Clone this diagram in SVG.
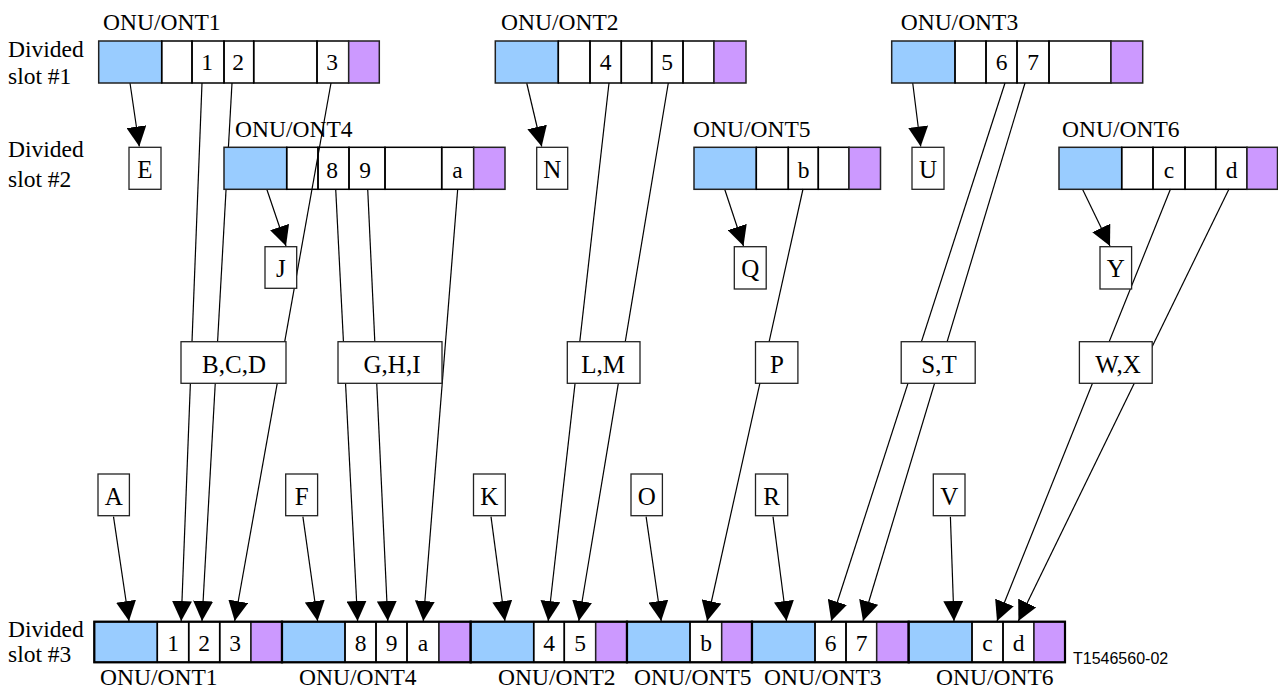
<svg xmlns="http://www.w3.org/2000/svg" width="1278" height="692" viewBox="0 0 1278 692">
<style>
text{font-family:"Liberation Serif","Times New Roman",serif;fill:#000}
.t{font-size:23.5px}
.d{font-size:23.5px;text-anchor:middle}
.l{font-size:25px;text-anchor:middle}
.s{font-family:"Liberation Sans",Arial,sans-serif;font-size:16px}
.b{fill:#99CCFF;stroke:#222;stroke-width:1.5}
.p{fill:#CC99FF;stroke:#222;stroke-width:1.5}
.w{fill:none;stroke:#000;stroke-width:1.5}
.o{fill:none;stroke:#000;stroke-width:2.2}
.bx{fill:#fff;stroke:#222;stroke-width:1.3}
.c line{stroke:#000;stroke-width:1.2;marker-end:url(#ah)}
</style>
<defs>
<marker id="ah" markerUnits="userSpaceOnUse" viewBox="0 0 20 20" markerWidth="20" markerHeight="20" refX="20" refY="10" orient="auto"><path d="M0,0 L20,10 L0,20 z" fill="#000"/></marker>
</defs>
<rect width="1278" height="692" fill="#fff"/>
<g id="row-labels">
<text class="t" x="8" y="57">Divided</text><text class="t" x="8" y="84">slot #1</text>
<text class="t" x="8" y="157">Divided</text><text class="t" x="8" y="187">slot #2</text>
<text class="t" x="8" y="637">Divided</text><text class="t" x="8" y="662">slot #3</text>
</g>
<g id="connectors" class="c">
<line x1="130" y1="83" x2="139.3" y2="146.5"/>
<line x1="526.7" y1="83" x2="541.7" y2="146.5"/>
<line x1="912.7" y1="83" x2="920.7" y2="146.5"/>
<line x1="266.7" y1="189" x2="286" y2="246"/>
<line x1="724.6" y1="189" x2="743.5" y2="246"/>
<line x1="1082.4" y1="189" x2="1110" y2="246"/>
<line x1="202" y1="83" x2="181.2" y2="621"/>
<line x1="232" y1="83" x2="202" y2="621"/>
<line x1="331" y1="83" x2="234.7" y2="621"/>
<line x1="335.7" y1="189" x2="357.6" y2="621"/>
<line x1="367.7" y1="189" x2="387.8" y2="621"/>
<line x1="457.7" y1="189" x2="423.3" y2="621"/>
<line x1="609" y1="83" x2="548.2" y2="621"/>
<line x1="668.3" y1="83" x2="578.8" y2="621"/>
<line x1="803" y1="189" x2="707.1" y2="621"/>
<line x1="1005" y1="83" x2="831.2" y2="621"/>
<line x1="1025" y1="83" x2="863" y2="621"/>
<line x1="1170.5" y1="189" x2="997" y2="621"/>
<line x1="1229" y1="189" x2="1018.4" y2="621"/>
<line x1="113.5" y1="516.7" x2="129" y2="621"/>
<line x1="302.9" y1="516.7" x2="317.6" y2="621"/>
<line x1="491" y1="516.7" x2="504.9" y2="621"/>
<line x1="646.1" y1="516.7" x2="661.2" y2="621"/>
<line x1="773" y1="516.7" x2="786.5" y2="621"/>
<line x1="950.4" y1="516.7" x2="954" y2="621"/>
</g>
<g id="s1-ont1">
<text class="t" x="103" y="30">ONU/ONT1</text>
<rect class="b" x="98.7" y="41" width="63" height="42"/>
<rect class="w" x="161.7" y="41" width="30.3" height="42"/>
<rect class="w" x="192" y="41" width="32" height="42"/>
<rect class="w" x="224" y="41" width="29.7" height="42"/>
<rect class="w" x="253.7" y="41" width="63.3" height="42"/>
<rect class="w" x="317" y="41" width="31.7" height="42"/>
<rect class="p" x="348.7" y="41" width="30.6" height="42"/>
<text class="d" x="207" y="70">1</text><text class="d" x="238" y="70">2</text><text class="d" x="332" y="70">3</text>
</g>
<g id="s1-ont2">
<text class="t" x="501" y="30">ONU/ONT2</text>
<rect class="b" x="495.3" y="41" width="63" height="42"/>
<rect class="w" x="558.3" y="41" width="31.7" height="42"/>
<rect class="w" x="590" y="41" width="31.3" height="42"/>
<rect class="w" x="621.3" y="41" width="30.4" height="42"/>
<rect class="w" x="651.7" y="41" width="31.3" height="42"/>
<rect class="w" x="683" y="41" width="31" height="42"/>
<rect class="p" x="714" y="41" width="32" height="42"/>
<text class="d" x="605.5" y="70">4</text><text class="d" x="667" y="70">5</text>
</g>
<g id="s1-ont3">
<text class="t" x="900.7" y="30">ONU/ONT3</text>
<rect class="b" x="891.7" y="41" width="63.3" height="42"/>
<rect class="w" x="955" y="41" width="31" height="42"/>
<rect class="w" x="986" y="41" width="31" height="42"/>
<rect class="w" x="1017" y="41" width="32" height="42"/>
<rect class="w" x="1049" y="41" width="62" height="42"/>
<rect class="p" x="1111" y="41" width="31.7" height="42"/>
<text class="d" x="1001.5" y="70">6</text><text class="d" x="1033" y="70">7</text>
</g>
<g id="s2-ont4">
<text class="t" x="235" y="137">ONU/ONT4</text>
<rect class="b" x="224" y="147.3" width="62.7" height="42"/>
<rect class="w" x="286.7" y="147.3" width="31.3" height="42"/>
<rect class="w" x="318" y="147.3" width="31" height="42"/>
<rect class="w" x="349" y="147.3" width="36" height="42"/>
<rect class="w" x="385" y="147.3" width="56.7" height="42"/>
<rect class="w" x="441.7" y="147.3" width="32" height="42"/>
<rect class="p" x="473.7" y="147.3" width="31.3" height="42"/>
<text class="d" x="332" y="178">8</text><text class="d" x="365" y="178">9</text><text class="d" x="457.5" y="178">a</text>
</g>
<g id="s2-ont5">
<text class="t" x="693" y="137">ONU/ONT5</text>
<rect class="b" x="694" y="147.3" width="62.3" height="42"/>
<rect class="w" x="756.3" y="147.3" width="32" height="42"/>
<rect class="w" x="788.3" y="147.3" width="30" height="42"/>
<rect class="w" x="818.3" y="147.3" width="30.7" height="42"/>
<rect class="p" x="849" y="147.3" width="31.5" height="42"/>
<text class="d" x="803.5" y="178">b</text>
</g>
<g id="s2-ont6">
<text class="t" x="1062" y="137">ONU/ONT6</text>
<rect class="b" x="1059" y="147.3" width="62.7" height="42"/>
<rect class="w" x="1121.7" y="147.3" width="31.3" height="42"/>
<rect class="w" x="1153" y="147.3" width="32" height="42"/>
<rect class="w" x="1185" y="147.3" width="30.7" height="42"/>
<rect class="w" x="1215.7" y="147.3" width="31.3" height="42"/>
<rect class="p" x="1247" y="147.3" width="30.5" height="42"/>
<text class="d" x="1169" y="178">c</text><text class="d" x="1231.5" y="178">d</text>
</g>
<g id="s3-ont1">
<rect class="b" x="94.3" y="621.7" width="63" height="40.6"/>
<rect class="w" x="157.3" y="621.7" width="31.4" height="40.6"/>
<rect class="w" x="188.7" y="621.7" width="31" height="40.6"/>
<rect class="w" x="219.7" y="621.7" width="31.3" height="40.6"/>
<rect class="p" x="251" y="621.7" width="31" height="40.6"/>
<rect class="o" x="94.3" y="621.7" width="187.7" height="40.6"/>
<text class="d" x="173" y="651">1</text><text class="d" x="204" y="651">2</text><text class="d" x="235" y="651">3</text>
<text class="t" x="100" y="685">ONU/ONT1</text>
</g>
<g id="s3-ont4">
<rect class="b" x="282" y="621.7" width="63" height="40.6"/>
<rect class="w" x="345" y="621.7" width="31" height="40.6"/>
<rect class="w" x="376" y="621.7" width="31" height="40.6"/>
<rect class="w" x="407" y="621.7" width="32" height="40.6"/>
<rect class="p" x="439" y="621.7" width="31.7" height="40.6"/>
<rect class="o" x="282" y="621.7" width="188.7" height="40.6"/>
<text class="d" x="360.5" y="651">8</text><text class="d" x="391.5" y="651">9</text><text class="d" x="423" y="651">a</text>
<text class="t" x="299" y="685">ONU/ONT4</text>
</g>
<g id="s3-ont2">
<rect class="b" x="470.7" y="621.7" width="63" height="40.6"/>
<rect class="w" x="533.7" y="621.7" width="30.6" height="40.6"/>
<rect class="w" x="564.3" y="621.7" width="31.4" height="40.6"/>
<rect class="p" x="595.7" y="621.7" width="31.3" height="40.6"/>
<rect class="o" x="470.7" y="621.7" width="156.3" height="40.6"/>
<text class="d" x="549" y="651">4</text><text class="d" x="580" y="651">5</text>
<text class="t" x="498" y="685">ONU/ONT2</text>
</g>
<g id="s3-ont5">
<rect class="b" x="627" y="621.7" width="63" height="40.6"/>
<rect class="w" x="690" y="621.7" width="31.7" height="40.6"/>
<rect class="p" x="721.7" y="621.7" width="30.3" height="40.6"/>
<rect class="o" x="627" y="621.7" width="125" height="40.6"/>
<text class="d" x="706" y="651">b</text>
<text class="t" x="634" y="685">ONU/ONT5</text>
</g>
<g id="s3-ont3">
<rect class="b" x="752" y="621.7" width="63" height="40.6"/>
<rect class="w" x="815" y="621.7" width="31" height="40.6"/>
<rect class="w" x="846" y="621.7" width="30.7" height="40.6"/>
<rect class="p" x="876.7" y="621.7" width="32" height="40.6"/>
<rect class="o" x="752" y="621.7" width="156.7" height="40.6"/>
<text class="d" x="830.5" y="651">6</text><text class="d" x="861.5" y="651">7</text>
<text class="t" x="764" y="685">ONU/ONT3</text>
</g>
<g id="s3-ont6">
<rect class="b" x="908.7" y="621.7" width="63.3" height="40.6"/>
<rect class="w" x="972" y="621.7" width="31" height="40.6"/>
<rect class="w" x="1003" y="621.7" width="31" height="40.6"/>
<rect class="p" x="1034" y="621.7" width="31" height="40.6"/>
<rect class="o" x="908.7" y="621.7" width="156.3" height="40.6"/>
<text class="d" x="987.5" y="651">c</text><text class="d" x="1018.5" y="651">d</text>
<text class="t" x="936" y="685">ONU/ONT6</text>
</g>
<g id="lbl-E"><rect class="bx" x="129" y="147.3" width="32" height="42"/><text class="l" x="145" y="178">E</text></g>
<g id="lbl-N"><rect class="bx" x="536.7" y="147.3" width="31" height="42"/><text class="l" x="552.2" y="178">N</text></g>
<g id="lbl-U"><rect class="bx" x="912" y="147.3" width="32" height="42"/><text class="l" x="928" y="178">U</text></g>
<g id="lbl-J"><rect class="bx" x="265" y="246.7" width="31.7" height="41.6"/><text class="l" x="280.8" y="277">J</text></g>
<g id="lbl-Q"><rect class="bx" x="734.3" y="246.7" width="31.9" height="42.3"/><text class="l" x="750.2" y="277">Q</text></g>
<g id="lbl-Y"><rect class="bx" x="1100" y="246.7" width="31.6" height="42.3"/><text class="l" x="1115.8" y="277">Y</text></g>
<g id="lbl-BCD"><rect class="bx" x="181" y="341.7" width="105" height="41.6"/><text class="l" x="234" y="372.5">B,C,D</text></g>
<g id="lbl-GHI"><rect class="bx" x="338" y="341.7" width="104" height="41.6"/><text class="l" x="392" y="372.5">G,H,I</text></g>
<g id="lbl-LM"><rect class="bx" x="567.3" y="341.7" width="72.7" height="41.6"/><text class="l" x="603" y="372.5">L,M</text></g>
<g id="lbl-P"><rect class="bx" x="755.5" y="341.7" width="42.4" height="41.6"/><text class="l" x="777" y="372.5">P</text></g>
<g id="lbl-ST"><rect class="bx" x="901.2" y="341.7" width="74" height="41.6"/><text class="l" x="939" y="372.5">S,T</text></g>
<g id="lbl-WX"><rect class="bx" x="1079.4" y="341.7" width="72.8" height="41.6"/><text class="l" x="1118" y="372.5">W,X</text></g>
<g id="lbl-A"><rect class="bx" x="98" y="474" width="31.4" height="41.7"/><text class="l" x="113.7" y="504.5">A</text></g>
<g id="lbl-F"><rect class="bx" x="285.7" y="474" width="31.9" height="41.7"/><text class="l" x="301.6" y="504.5">F</text></g>
<g id="lbl-K"><rect class="bx" x="473.5" y="474" width="31.8" height="41.7"/><text class="l" x="489.4" y="504.5">K</text></g>
<g id="lbl-O"><rect class="bx" x="631" y="474" width="31.4" height="41.7"/><text class="l" x="646.7" y="504.5">O</text></g>
<g id="lbl-R"><rect class="bx" x="755.5" y="474" width="32.2" height="41.7"/><text class="l" x="771.6" y="504.5">R</text></g>
<g id="lbl-V"><rect class="bx" x="933.3" y="474" width="31.7" height="41.7"/><text class="l" x="949.2" y="504.5">V</text></g>
<text class="s" x="1073" y="664">T1546560-02</text>
</svg>
